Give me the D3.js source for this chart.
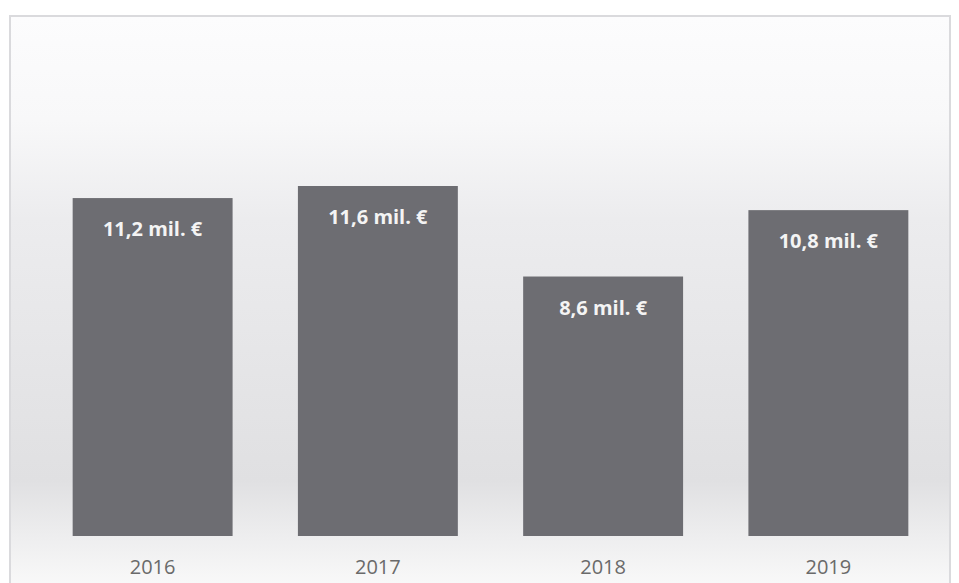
<!DOCTYPE html>
<html>
<head>
<meta charset="utf-8">
<script src="https://cdn.jsdelivr.net/npm/d3@7"></script>
<style>
  body { margin: 0; background: #fff; }
  svg { display: block; }
</style>
</head>
<body>
<svg class="chart"></svg>
<script>
// dados
const years = ["2016", "2017", "2018", "2019"];
const values = [11.2, 11.6, 8.6, 10.8];
const labels = ["11,2 mil. €", "11,6 mil. €", "8,6 mil. €", "10,8 mil. €"];

const w = 959;
const h = 583;

const svg = d3.select('svg.chart')
  .attr('width', w)
  .attr('height', h)
  .attr('viewBox', `0 0 ${w} ${h}`);

const defs = svg.append('defs');

// fundo cinza esbatido (tipo "chão" do gráfico digitalizado)
const bg = defs.append('linearGradient')
  .attr('id', 'bg').attr('x1', 0).attr('y1', 0).attr('x2', 0).attr('y2', 1);
bg.append('stop').attr('offset', '0%').attr('stop-color', '#fcfcfd');
bg.append('stop').attr('offset', '18%').attr('stop-color', '#f8f8f9');
bg.append('stop').attr('offset', '35%').attr('stop-color', '#ececee');
bg.append('stop').attr('offset', '80%').attr('stop-color', '#e0e0e2');
bg.append('stop').attr('offset', '90%').attr('stop-color', '#eeeeef');
bg.append('stop').attr('offset', '100%').attr('stop-color', '#fbfbfb');

// moldura
svg.append('rect')
  .attr('x', 10).attr('y', 16)
  .attr('width', 940).attr('height', 580)
  .attr('fill', 'url(#bg)')
  .attr('stroke', '#dadadd')
  .attr('stroke-width', 2);

const x = d3.scaleBand()
  .domain(years)
  .range([40, 941])
  .paddingInner(0.29)
  .paddingOuter(0.145);

const y = d3.scaleLinear()
  .domain([0, 11.6])
  .range([536, 186]);

const g = svg.append('g');

g.selectAll('rect.bar')
  .data(values)
  .join('rect')
  .classed('bar', true)
  .attr('x', (d, i) => x(years[i]))
  .attr('y', d => y(d))
  .attr('width', x.bandwidth())
  .attr('height', d => y(0) - y(d))
  .attr('fill', '#6d6d72');

g.selectAll('text.valor')
  .data(values)
  .join('text')
  .classed('valor', true)
  .attr('x', (d, i) => x(years[i]) + x.bandwidth() / 2)
  .attr('y', d => y(d) + 38)
  .attr('text-anchor', 'middle')
  .attr('fill', '#f4f4f4')
  .attr('font-family', 'Open Sans, sans-serif')
  .attr('font-weight', 'bold')
  .attr('font-size', 20)
  .text((d, i) => labels[i]);

// eixo x só com os rótulos dos anos
const xAxis = svg.append('g')
  .attr('transform', `translate(0, ${y(0)})`)
  .call(d3.axisBottom(x).tickSize(0).tickPadding(24));

xAxis.select('.domain').remove();
xAxis.selectAll('text')
  .attr('fill', '#6a6a6a')
  .attr('font-family', 'Open Sans, sans-serif')
  .attr('font-size', 20);
</script>
</body>
</html>
